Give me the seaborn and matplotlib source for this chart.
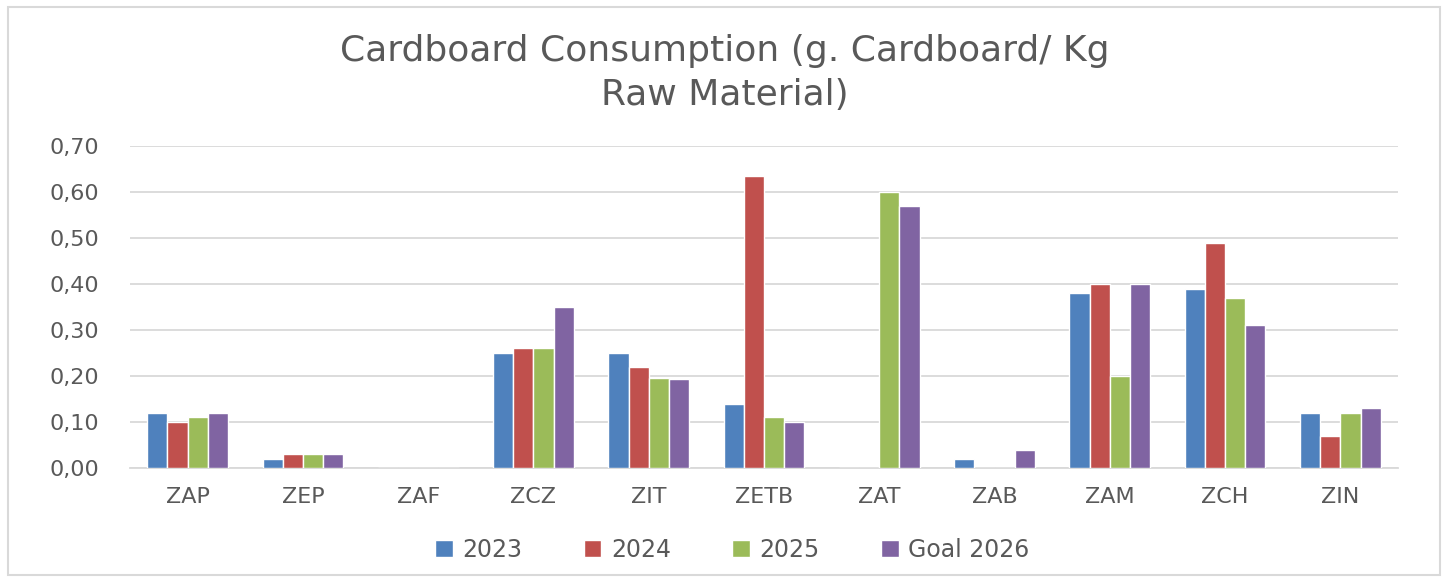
import pandas as pd
import matplotlib.pyplot as plt
import seaborn as sns
from matplotlib.patches import Rectangle
from matplotlib.ticker import FuncFormatter, MultipleLocator

# Dados
plantas = ['ZAP', 'ZEP', 'ZAF', 'ZCZ', 'ZIT', 'ZETB', 'ZAT', 'ZAB', 'ZAM', 'ZCH', 'ZIN']
series = ['2023', '2024', '2025', 'Goal 2026']
v2023 = [0.12, 0.02, 0.00, 0.25, 0.25, 0.14, 0.00, 0.02, 0.38, 0.39, 0.12]
v2024 = [0.10, 0.03, 0.00, 0.26, 0.22, 0.635, 0.00, 0.00, 0.40, 0.49, 0.07]
v2025 = [0.11, 0.03, 0.00, 0.26, 0.196, 0.11, 0.60, 0.00, 0.20, 0.37, 0.12]
meta2026 = [0.12, 0.03, 0.00, 0.35, 0.194, 0.10, 0.57, 0.04, 0.40, 0.31, 0.13]
cores = ['#4F81BD', '#C0504D', '#9BBB59', '#8064A2']

df = pd.DataFrame({'planta': plantas, '2023': v2023, '2024': v2024,
                   '2025': v2025, 'Goal 2026': meta2026})
df = df.melt(id_vars='planta', var_name='serie', value_name='valor')

sns.set_style('white')
plt.rcParams['font.family'] = ['DejaVu Sans']
cinza = '#595959'

fig = plt.figure(figsize=(14.5, 5.8), dpi=100)
ax = fig.add_axes([130 / 1450, 1 - 468 / 580, 1268 / 1450, 322 / 580])

sns.barplot(data=df, x='planta', y='valor', hue='serie', hue_order=series,
            palette=cores, saturation=1, width=0.7, edgecolor='white',
            linewidth=1, ax=ax, zorder=3)

ax.set_ylim(0, 0.70)
ax.yaxis.set_major_locator(MultipleLocator(0.10))
ax.yaxis.set_major_formatter(FuncFormatter(lambda v, p: f'{v:.2f}'.replace('.', ',')))
ax.grid(axis='y', color='#D9D9D9', linewidth=1.3, zorder=0)
ax.set_xlabel('')
ax.set_ylabel('')
for lado in ['top', 'right', 'left']:
    ax.spines[lado].set_visible(False)
ax.spines['bottom'].set_color('#D9D9D9')
ax.spines['bottom'].set_linewidth(1.3)
ax.tick_params(axis='both', length=0, colors=cinza, labelsize=16)
ax.tick_params(axis='y', pad=22)
ax.tick_params(axis='x', pad=14)

ax.legend(loc='upper center', bbox_to_anchor=(0.475, -0.15), ncol=4, frameon=False,
          fontsize=17, labelcolor=cinza, handlelength=0.75, handleheight=0.75,
          columnspacing=2.6, handletextpad=0.4)

fig.text(0.5, 1 - 73 / 580, 'Cardboard Consumption (g. Cardboard/ Kg\nRaw Material)',
         ha='center', va='center', fontsize=26, color=cinza, linespacing=1.4)

fig.patches.append(Rectangle((8 / 1450, 5 / 580), 1432 / 1450, 568 / 580,
                             transform=fig.transFigure, fill=False,
                             edgecolor='#D9D9D9', linewidth=1.5))

plt.savefig('out.png', dpi=100, facecolor='white')
